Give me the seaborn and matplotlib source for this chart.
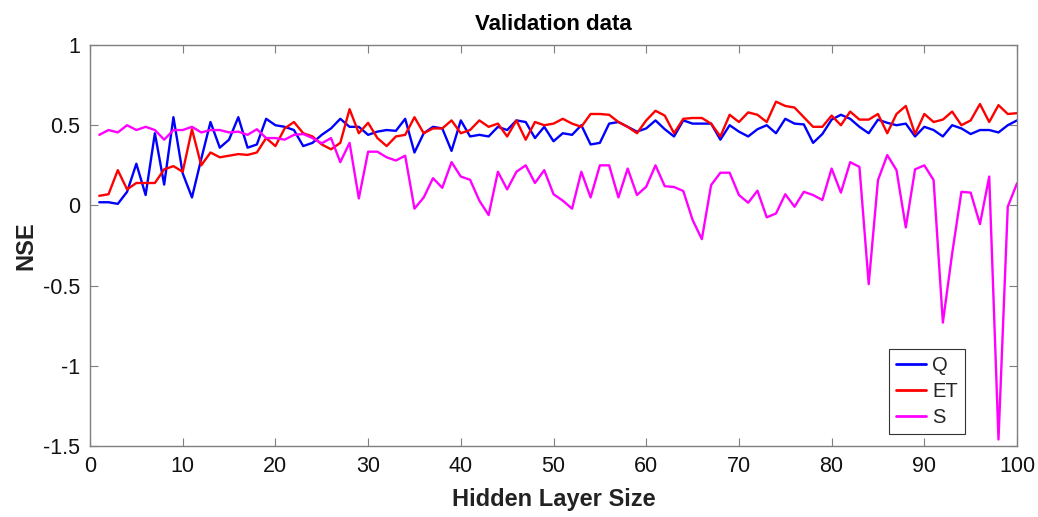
# -*- coding: utf-8 -*-
"""
Validation data: NSE vs hidden layer size for Q, ET and S
"""

import pandas as pd
import matplotlib
matplotlib.use('Agg')
import matplotlib.pyplot as plt
import seaborn as sns

# ==================== data ====================
hidden_size = list(range(1, 101))

nse_q = [0.02, 0.02, 0.01, 0.085, 0.26, 0.065, 0.45, 0.13, 0.55, 0.20,
         0.05, 0.29, 0.52, 0.36, 0.41, 0.55, 0.36, 0.38, 0.54, 0.50,
         0.49, 0.47, 0.37, 0.39, 0.44, 0.48, 0.54, 0.49, 0.49, 0.44,
         0.46, 0.47, 0.465, 0.54, 0.33, 0.45, 0.49, 0.48, 0.34, 0.53,
         0.43, 0.44, 0.43, 0.49, 0.47, 0.53, 0.52, 0.42, 0.49, 0.40,
         0.45, 0.44, 0.50, 0.38, 0.39, 0.51, 0.52, 0.49, 0.46, 0.48,
         0.53, 0.475, 0.43, 0.53, 0.51, 0.51, 0.51, 0.41, 0.50, 0.46,
         0.43, 0.475, 0.50, 0.45, 0.54, 0.51, 0.505, 0.39, 0.445, 0.535,
         0.565, 0.54, 0.49, 0.45, 0.535, 0.515, 0.50, 0.51, 0.43, 0.49,
         0.47, 0.43, 0.50, 0.48, 0.445, 0.47, 0.47, 0.455, 0.50, 0.53]

nse_et = [0.06, 0.07, 0.22, 0.10, 0.14, 0.14, 0.14, 0.225, 0.245, 0.21,
          0.475, 0.25, 0.33, 0.30, 0.31, 0.32, 0.315, 0.33, 0.42, 0.37,
          0.48, 0.52, 0.45, 0.43, 0.38, 0.35, 0.39, 0.60, 0.45, 0.515,
          0.42, 0.37, 0.43, 0.44, 0.55, 0.45, 0.48, 0.48, 0.53, 0.45,
          0.47, 0.53, 0.49, 0.51, 0.43, 0.53, 0.41, 0.52, 0.50, 0.51,
          0.54, 0.51, 0.49, 0.57, 0.57, 0.565, 0.52, 0.49, 0.45, 0.53,
          0.59, 0.56, 0.45, 0.54, 0.545, 0.545, 0.51, 0.43, 0.565, 0.52,
          0.58, 0.565, 0.52, 0.647, 0.62, 0.61, 0.55, 0.49, 0.49, 0.56,
          0.50, 0.585, 0.535, 0.535, 0.57, 0.45, 0.57, 0.62, 0.445, 0.57,
          0.52, 0.535, 0.585, 0.50, 0.53, 0.632, 0.52, 0.625, 0.57, 0.575]

nse_s = [0.44, 0.47, 0.455, 0.50, 0.47, 0.49, 0.47, 0.41, 0.47, 0.47,
         0.49, 0.455, 0.47, 0.47, 0.455, 0.46, 0.44, 0.475, 0.42, 0.42,
         0.41, 0.44, 0.445, 0.42, 0.387, 0.42, 0.27, 0.39, 0.044, 0.335,
         0.335, 0.30, 0.28, 0.31, -0.02, 0.05, 0.17, 0.11, 0.27, 0.18,
         0.16, 0.03, -0.06, 0.21, 0.10, 0.21, 0.25, 0.14, 0.22, 0.07,
         0.03, -0.02, 0.21, 0.05, 0.25, 0.25, 0.05, 0.23, 0.065, 0.117,
         0.25, 0.12, 0.115, 0.09, -0.09, -0.21, 0.127, 0.204, 0.204, 0.065,
         0.017, 0.092, -0.074, -0.05, 0.07, -0.008, 0.085, 0.065, 0.034, 0.23,
         0.08, 0.27, 0.24, -0.49, 0.158, 0.314, 0.22, -0.137, 0.225, 0.25,
         0.158, -0.73, -0.30, 0.085, 0.08, -0.116, 0.18, -1.458, -0.008, 0.138]

series_names = ['Q', 'ET', 'S']
series_colors = ['#0000ff', '#ff0000', '#ff00ff']
x_ticks = [0, 10, 20, 30, 40, 50, 60, 70, 80, 90, 100]
y_ticks = [-1.5, -1, -0.5, 0, 0.5, 1]
y_tick_labels = ['-1.5', '-1', '-0.5', '0', '0.5', '1']

# 长表格式，便于 seaborn 按 hue 画线
df = pd.DataFrame({
    'Hidden Layer Size': hidden_size * 3,
    'NSE': nse_q + nse_et + nse_s,
    'var': ['Q'] * 100 + ['ET'] * 100 + ['S'] * 100,
})

# ==================== style ====================
sns.set_style('white')
plt.rcParams['font.family'] = ['Liberation Sans', 'DejaVu Sans']
plt.rcParams['axes.unicode_minus'] = False

fig = plt.figure(figsize=(10.38, 5.17), dpi=100)
ax = fig.add_axes([0.0867, 0.137, 0.8931, 0.776])

sns.lineplot(data=df, x='Hidden Layer Size', y='NSE', hue='var',
             hue_order=series_names, palette=series_colors,
             linewidth=1.7, ax=ax)

ax.set_xlim(0, 100)
ax.set_ylim(-1.5, 1)
ax.set_xticks(x_ticks)
ax.set_yticks(y_ticks)
ax.set_yticklabels(y_tick_labels)
ax.tick_params(direction='in', length=6, width=0.8, colors='#7f7f7f',
               labelcolor='#111111', labelsize=15.5, top=True, right=True,
               bottom=True, left=True, pad=7)
for sp in ax.spines.values():
    sp.set_color('#7f7f7f')
    sp.set_linewidth(1.0)

ax.set_title('Validation data', fontsize=16, fontweight='bold', pad=11,
             color='black')
ax.set_xlabel('Hidden Layer Size', fontsize=17, fontweight='bold',
              labelpad=8, color='#222222')
ax.set_ylabel('NSE', fontsize=17, fontweight='bold', labelpad=4,
              color='#222222')

leg = ax.legend(loc='lower right', bbox_to_anchor=(0.955, 0.005),
                fontsize=14.5, frameon=True, fancybox=False, framealpha=1,
                edgecolor='#333333', handlelength=1.5, handletextpad=0.3,
                labelspacing=0.35, borderpad=0.35, title=None)
leg.get_frame().set_linewidth(0.8)
for line in leg.get_lines():
    line.set_linewidth(2.0)

fig.savefig('out.png', dpi=100)
